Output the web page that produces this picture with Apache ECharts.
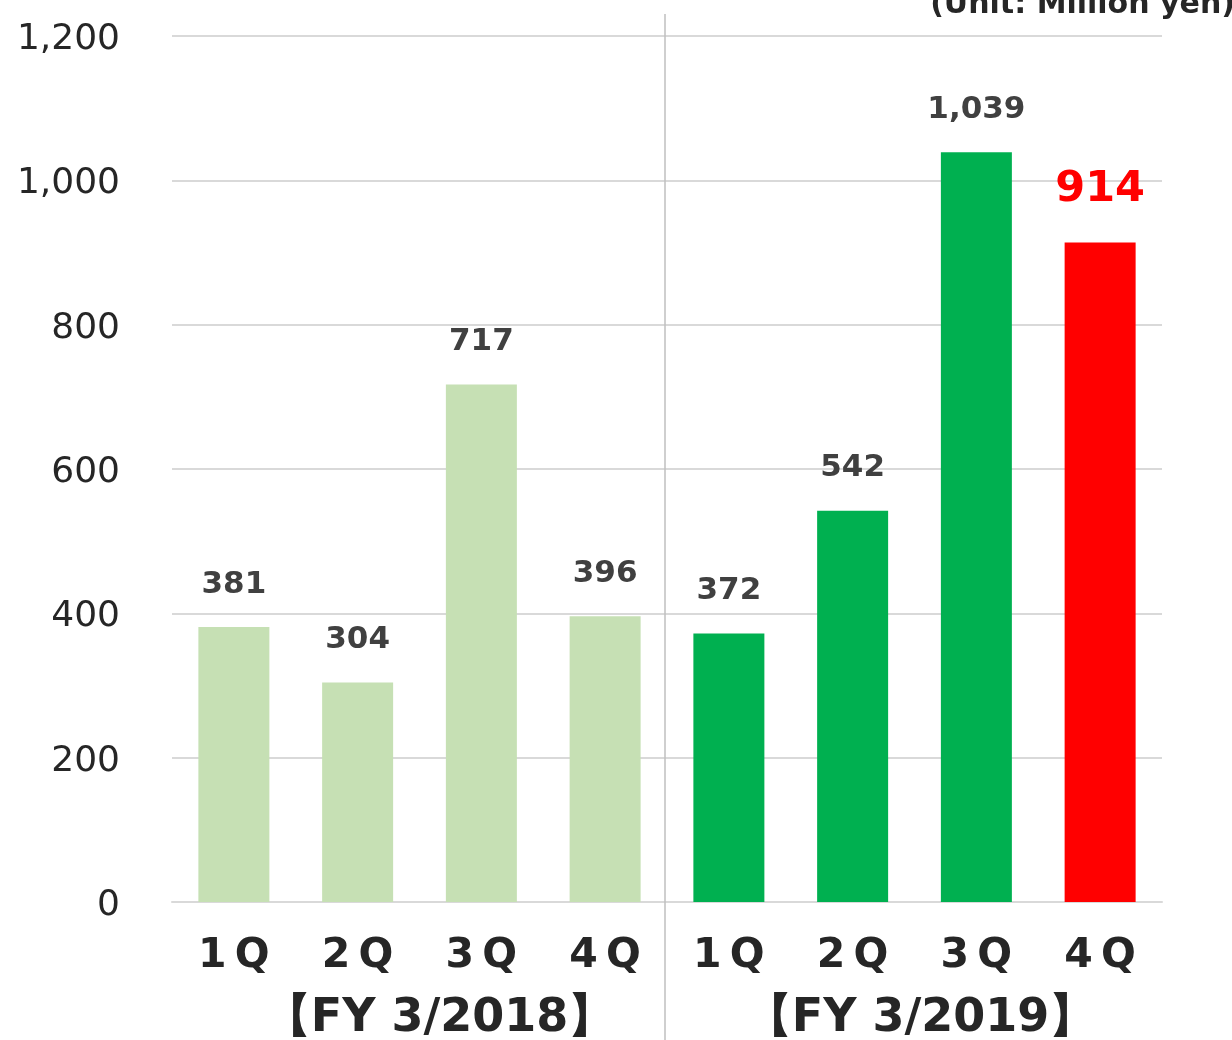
<!DOCTYPE html>
<html>
<head>
<meta charset="utf-8">
<script src="https://cdn.jsdelivr.net/npm/echarts@6/dist/echarts.min.js"></script>
<style>
html,body{margin:0;padding:0;background:#fff;}
#chart{width:1232px;height:1040px;}
</style>
</head>
<body>
<div id="chart"></div>
<script>
const quarters = ['1Q','2Q','3Q','4Q','1Q','2Q','3Q','4Q'];
const fiscalYears = ['【FY 3/2018】','【FY 3/2019】'];
const values = [381, 304, 717, 396, 372, 542, 1039, 914];
const yTicks = [0, 200, 400, 600, 800, 1000, 1200];
const unitText = '(Unit: Million yen)';

const FONT = 'Verdana, "DejaVu Sans", sans-serif';
const chart = echarts.init(document.getElementById('chart'), null, {renderer:'canvas'});

const seriesData = values.map((v, i) => {
  const isLast = i === values.length - 1;
  const color = i < 4 ? '#c6e0b4' : (isLast ? '#ff0000' : '#00b050');
  const item = { value: v, itemStyle: { color } };
  if (isLast) {
    item.label = { color: '#ff0000', fontSize: 43, distance: 31 };
  }
  return item;
});

const groupText = { fontFamily: FONT, fontSize: 46, fontWeight: 'bold', color: '#262626' };

chart.setOption({
  animation: false,
  title: {
    text: unitText, right: -8, top: -15,
    textStyle: { fontFamily: FONT, fontSize: 30, fontWeight: 'bold', color: '#262626' }
  },
  grid: { left: 172, right: 70, top: 36, bottom: 138, containLabel: false, outerBoundsMode: 'none' },
  xAxis: [
    {
      type: 'category', data: quarters,
      axisLine: { show: true, lineStyle: { color: '#d9d9d9', width: 2 } },
      axisTick: { show: false },
      axisLabel: {
        fontFamily: FONT, fontSize: 41, fontWeight: 'bold', color: '#262626', margin: 34,
        formatter: v => v.split('').join('\u2009')
      }
    },
    {
      type: 'category', data: fiscalYears, position: 'bottom',
      axisLine: { show: false }, axisTick: { show: false },
      axisLabel: {
        margin: 94,
        formatter: (v, i) => '{g' + i + '|' + v + '}',
        rich: {
          g0: Object.assign({ padding: [0, 0, 0, 40] }, groupText),
          g1: Object.assign({ padding: [0, 0, 0, 12] }, groupText)
        }
      }
    }
  ],
  yAxis: {
    type: 'value', min: yTicks[0], max: yTicks[yTicks.length - 1], interval: 200,
    axisLine: { show: false }, axisTick: { show: false },
    splitLine: { lineStyle: { color: '#d9d9d9', width: 2 } },
    axisLabel: {
      margin: 52,
      formatter: v => '{y|' + v.toLocaleString('en-US') + '}',
      rich: {
        y: { fontFamily: FONT, fontSize: 36, color: '#262626', padding: [7, 0, 0, 0] }
      }
    }
  },
  series: [{
    type: 'bar', xAxisIndex: 0, data: seriesData, barWidth: 71,
    label: {
      show: true, position: 'top', distance: 27,
      fontFamily: FONT, fontSize: 31, fontWeight: 'bold', color: '#404040',
      formatter: p => p.value.toLocaleString('en-US')
    }
  }],
  graphic: [{
    type: 'line', z: 10,
    shape: { x1: 665, y1: 14, x2: 665, y2: 1040 },
    style: { stroke: '#bfbfbf', lineWidth: 1.5 }
  }]
});
</script>
</body>
</html>
